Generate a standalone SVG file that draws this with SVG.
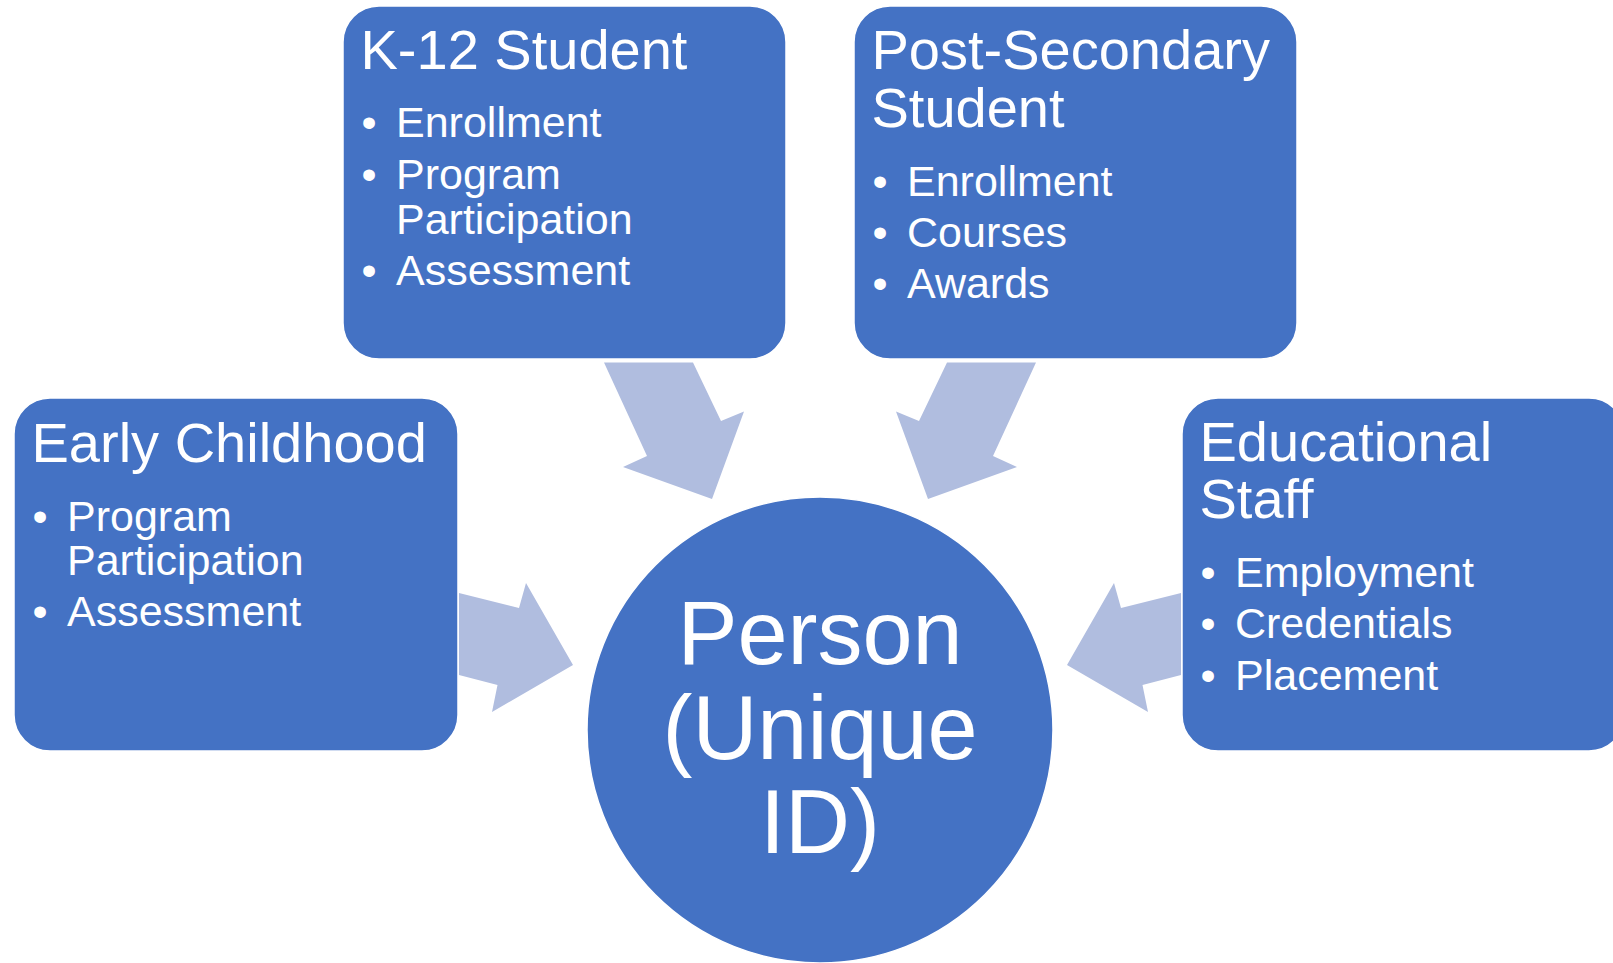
<svg xmlns="http://www.w3.org/2000/svg" width="1613" height="963" viewBox="0 0 1613 963">
<style>
.box{fill:#4472C4;stroke:#ffffff;stroke-width:1.5}
.arrow{fill:#B0BDDF}
.title{font-family:"Liberation Sans",Arial,sans-serif;font-size:56px;fill:#ffffff}
.item{font-family:"Liberation Sans",Arial,sans-serif;font-size:43px;fill:#ffffff}
.center{font-family:"Liberation Sans",Arial,sans-serif;font-size:90px;fill:#ffffff;text-anchor:middle}
</style>
<rect width="1613" height="963" fill="#ffffff"/>
<g id="connectors">
<polygon class="arrow" points="459,593 519,608 526,583 573,665 492,712 497.5,685 459,675"/>
<polygon class="arrow" points="604,362.6 693,362.6 721,421 744,411.5 712,499 623,467 647,456"/>
<polygon class="arrow" points="1036,362.6 947,362.6 919,421 896,411.5 928,499 1017,467 993,456"/>
<polygon class="arrow" points="1181,593 1121,608 1114,583 1067,665 1148,712 1142.5,685 1181,675"/>
</g>
<g id="early-childhood">
<rect class="box" x="14" y="398" width="444" height="353" rx="36"/>
<text class="title" x="31.5" y="462">Early Childhood</text>
<text class="item" x="32.5" y="531">•</text>
<text class="item" x="67" y="531">Program</text>
<text class="item" x="67" y="575">Participation</text>
<text class="item" x="32.5" y="626">•</text>
<text class="item" x="67" y="626">Assessment</text>
</g>
<g id="k12-student">
<rect class="box" x="343" y="6" width="443" height="353" rx="36"/>
<text class="title" x="360.5" y="69">K-12 Student</text>
<text class="item" x="361.5" y="137">•</text>
<text class="item" x="396" y="137">Enrollment</text>
<text class="item" x="361.5" y="188.5">•</text>
<text class="item" x="396" y="188.5">Program</text>
<text class="item" x="396" y="233.5">Participation</text>
<text class="item" x="361.5" y="285">•</text>
<text class="item" x="396" y="285">Assessment</text>
</g>
<g id="post-secondary-student">
<rect class="box" x="854" y="6" width="443" height="353" rx="36"/>
<text class="title" x="871.5" y="69">Post-Secondary</text>
<text class="title" x="871.5" y="127">Student</text>
<text class="item" x="872.5" y="196">•</text>
<text class="item" x="907" y="196">Enrollment</text>
<text class="item" x="872.5" y="247">•</text>
<text class="item" x="907" y="247">Courses</text>
<text class="item" x="872.5" y="298">•</text>
<text class="item" x="907" y="298">Awards</text>
</g>
<g id="educational-staff">
<rect class="box" x="1182" y="398" width="443" height="353" rx="36"/>
<text class="title" x="1199.5" y="461">Educational</text>
<text class="title" x="1199.5" y="518">Staff</text>
<text class="item" x="1200.5" y="587">•</text>
<text class="item" x="1235" y="587">Employment</text>
<text class="item" x="1200.5" y="638">•</text>
<text class="item" x="1235" y="638">Credentials</text>
<text class="item" x="1200.5" y="690">•</text>
<text class="item" x="1235" y="690">Placement</text>
</g>
<g id="person">
<circle class="box" cx="820" cy="730" r="233"/>
<text class="center" x="820" y="664">Person</text>
<text class="center" x="820" y="759">(Unique</text>
<text class="center" x="820" y="853">ID)</text>
</g>
</svg>
